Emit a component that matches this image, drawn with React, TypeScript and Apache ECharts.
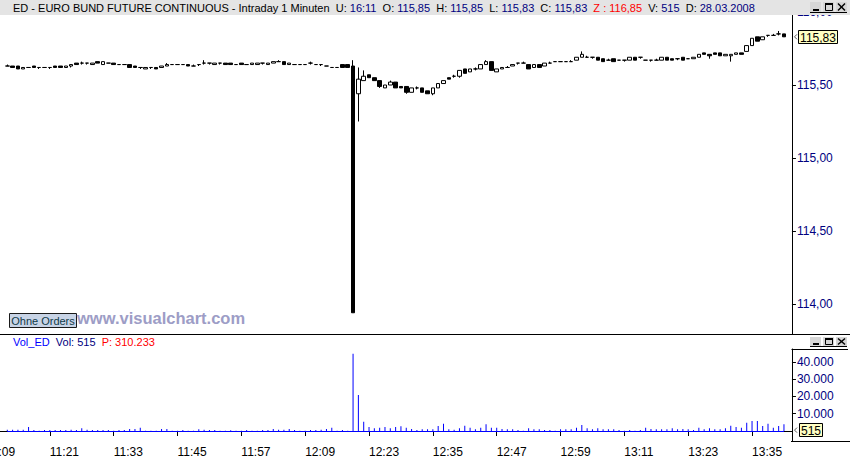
import React, { useEffect, useRef } from "react";
import * as echarts from "echarts";

// ---------- data ----------
const timeRanges: [string, string][] = [
  ["11:09", "12:17"],
  ["12:20", "13:42"],
];
const hiddenBefore = 4; // 11:09 – 11:12 lie left of the first drawn bar

// [open, close, low, high]
const candles: [number, number, number, number][] = [
  [115.63, 115.63, 115.63, 115.64], [115.63, 115.62, 115.62, 115.63], [115.63, 115.61, 115.61, 115.63],
  [115.61, 115.62, 115.61, 115.62], [115.62, 115.62, 115.62, 115.62], [115.63, 115.62, 115.62, 115.63],
  [115.62, 115.62, 115.61, 115.62], [115.62, 115.62, 115.62, 115.62], [115.62, 115.62, 115.61, 115.62],
  [115.63, 115.62, 115.62, 115.63], [115.63, 115.62, 115.62, 115.63], [115.62, 115.63, 115.62, 115.63],
  [115.63, 115.64, 115.62, 115.64], [115.65, 115.64, 115.64, 115.65], [115.65, 115.65, 115.64, 115.66],
  [115.65, 115.65, 115.64, 115.65], [115.64, 115.65, 115.64, 115.65], [115.66, 115.65, 115.65, 115.66],
  [115.64, 115.66, 115.64, 115.66], [115.65, 115.65, 115.65, 115.65], [115.65, 115.64, 115.64, 115.65],
  [115.64, 115.64, 115.64, 115.64], [115.64, 115.64, 115.64, 115.64], [115.64, 115.62, 115.62, 115.64],
  [115.63, 115.62, 115.62, 115.63], [115.62, 115.62, 115.61, 115.62], [115.61, 115.62, 115.61, 115.62],
  [115.62, 115.62, 115.61, 115.62], [115.62, 115.61, 115.61, 115.62], [115.62, 115.63, 115.62, 115.63],
  [115.63, 115.64, 115.63, 115.65], [115.64, 115.64, 115.64, 115.64], [115.64, 115.64, 115.64, 115.64],
  [115.64, 115.64, 115.64, 115.64], [115.64, 115.63, 115.63, 115.64], [115.63, 115.63, 115.63, 115.64],
  [115.64, 115.64, 115.63, 115.64], [115.65, 115.65, 115.64, 115.67], [115.65, 115.65, 115.64, 115.65],
  [115.64, 115.65, 115.64, 115.65], [115.65, 115.65, 115.64, 115.65], [115.65, 115.64, 115.64, 115.65],
  [115.65, 115.64, 115.64, 115.65], [115.64, 115.64, 115.64, 115.64], [115.65, 115.64, 115.64, 115.65],
  [115.64, 115.64, 115.64, 115.64], [115.64, 115.65, 115.64, 115.65], [115.64, 115.65, 115.64, 115.65],
  [115.65, 115.65, 115.64, 115.65], [115.64, 115.65, 115.64, 115.65], [115.65, 115.66, 115.65, 115.66],
  [115.66, 115.66, 115.66, 115.67], [115.66, 115.64, 115.64, 115.66], [115.64, 115.65, 115.64, 115.65],
  [115.64, 115.64, 115.64, 115.64], [115.64, 115.64, 115.64, 115.64], [115.64, 115.64, 115.64, 115.64],
  [115.65, 115.65, 115.64, 115.66], [115.64, 115.64, 115.64, 115.64], [115.64, 115.64, 115.63, 115.64],
  [115.63, 115.63, 115.63, 115.63], [115.62, 115.62, 115.62, 115.62], [115.62, 115.62, 115.62, 115.62],
  [115.64, 115.62, 115.62, 115.64], [115.64, 115.62, 115.62, 115.64],
  [115.63, 113.94, 113.94, 115.67],
  [115.44, 115.54, 115.25, 115.62], [115.53, 115.56, 115.53, 115.6], [115.57, 115.55, 115.55, 115.57],
  [115.55, 115.53, 115.53, 115.55], [115.53, 115.49, 115.48, 115.53], [115.48, 115.5, 115.48, 115.5],
  [115.5, 115.52, 115.5, 115.53], [115.52, 115.48, 115.48, 115.52], [115.49, 115.48, 115.48, 115.49],
  [115.49, 115.45, 115.44, 115.49], [115.45, 115.48, 115.45, 115.48], [115.48, 115.48, 115.47, 115.49],
  [115.48, 115.45, 115.45, 115.48], [115.46, 115.44, 115.44, 115.46], [115.44, 115.48, 115.43, 115.48],
  [115.48, 115.51, 115.48, 115.51], [115.51, 115.53, 115.51, 115.53], [115.55, 115.54, 115.54, 115.55],
  [115.56, 115.56, 115.55, 115.57], [115.56, 115.6, 115.55, 115.6], [115.61, 115.58, 115.58, 115.61],
  [115.59, 115.61, 115.59, 115.61], [115.61, 115.61, 115.6, 115.62], [115.61, 115.64, 115.61, 115.64],
  [115.64, 115.66, 115.64, 115.67], [115.66, 115.6, 115.6, 115.66], [115.59, 115.61, 115.59, 115.61],
  [115.61, 115.62, 115.61, 115.62], [115.62, 115.62, 115.62, 115.63], [115.63, 115.64, 115.63, 115.64],
  [115.65, 115.65, 115.64, 115.65], [115.65, 115.65, 115.65, 115.66], [115.64, 115.61, 115.61, 115.64],
  [115.62, 115.64, 115.62, 115.64], [115.64, 115.62, 115.62, 115.64], [115.63, 115.65, 115.63, 115.65],
  [115.65, 115.65, 115.65, 115.66], [115.66, 115.66, 115.66, 115.66], [115.66, 115.66, 115.66, 115.66],
  [115.66, 115.66, 115.66, 115.66], [115.66, 115.66, 115.66, 115.67], [115.67, 115.69, 115.67, 115.69],
  [115.69, 115.71, 115.69, 115.73], [115.69, 115.69, 115.69, 115.7], [115.69, 115.69, 115.68, 115.69],
  [115.69, 115.67, 115.67, 115.69], [115.68, 115.66, 115.66, 115.68], [115.67, 115.67, 115.67, 115.68],
  [115.68, 115.66, 115.66, 115.68], [115.67, 115.67, 115.67, 115.67], [115.67, 115.67, 115.66, 115.67],
  [115.67, 115.69, 115.67, 115.69], [115.69, 115.67, 115.67, 115.69], [115.69, 115.69, 115.68, 115.69],
  [115.67, 115.67, 115.67, 115.67], [115.67, 115.67, 115.66, 115.67], [115.67, 115.67, 115.67, 115.68],
  [115.67, 115.69, 115.67, 115.69], [115.69, 115.67, 115.67, 115.69], [115.68, 115.67, 115.67, 115.68],
  [115.68, 115.68, 115.67, 115.68], [115.69, 115.67, 115.67, 115.69], [115.68, 115.68, 115.68, 115.68],
  [115.68, 115.69, 115.68, 115.69], [115.69, 115.71, 115.69, 115.71], [115.72, 115.71, 115.71, 115.72],
  [115.71, 115.7, 115.68, 115.71], [115.72, 115.71, 115.71, 115.72], [115.72, 115.7, 115.7, 115.72],
  [115.7, 115.71, 115.7, 115.71], [115.7, 115.71, 115.66, 115.71], [115.71, 115.72, 115.71, 115.72],
  [115.72, 115.71, 115.71, 115.72], [115.73, 115.77, 115.73, 115.77], [115.77, 115.82, 115.77, 115.82],
  [115.83, 115.8, 115.8, 115.83], [115.81, 115.83, 115.81, 115.83], [115.84, 115.84, 115.83, 115.84],
  [115.84, 115.84, 115.84, 115.85], [115.85, 115.85, 115.84, 115.87], [115.85, 115.83, 115.83, 115.85],
];

const volumes: number[] = [
  770, 770, 770, 770, 2300, 580, 200, 580, 580, 580,
  580, 580, 770, 580, 1540, 770, 580, 580, 580, 580,
  200, 580, 580, 1160, 1160, 1930, 200, 200, 200, 1160,
  1160, 200, 200, 580, 200, 200, 960, 770, 580, 580,
  200, 200, 390, 200, 200, 580, 200, 200, 580, 580,
  1160, 770, 770, 1160, 580, 200, 200, 580, 580, 770,
  1160, 1930, 200, 580, 200, 44600, 20800, 5400, 2300, 1540,
  1930, 2310, 1540, 2310, 2700, 1930, 1160, 580, 970, 970,
  960, 2900, 4250, 960, 770, 1540, 3090, 1930, 960, 1930,
  3860, 1930, 1930, 1160, 960, 960, 580, 200, 1540, 960,
  960, 580, 580, 200, 960, 960, 960, 1930, 3470, 1540,
  960, 1540, 960, 960, 960, 580, 200, 580, 200, 580,
  1930, 1160, 960, 960, 960, 1540, 960, 1160, 960, 580,
  1930, 960, 1540, 960, 960, 1540, 3090, 2310, 1930, 4830,
  5790, 5790, 2900, 4250, 1930, 2900, 3860,
];

const priceTicks = [114, 114.5, 115, 115.5, 116];
const volumeTicks = [10000, 20000, 30000, 40000];
const lastVolumeText = "515";
const volumeSumText = "310.233";
const sessionTime = "16:11";
const sessionDate = "28.03.2008";
const limitText = "116,85";
const title = "ED - EURO BUND FUTURE CONTINUOUS - Intraday 1 Minuten";

// ---------- helpers ----------
const FONT = '"Liberation Sans", Arial, sans-serif';
const fmtPrice = (v: number) => v.toFixed(2).replace(".", ",");
const fmtVol = (v: number) => String(Math.round(v)).replace(/\B(?=(\d{3})+(?!\d))/g, ".");
const toMin = (s: string) => {
  const [h, m] = s.split(":").map(Number);
  return h * 60 + m;
};
function buildTimes(ranges: [string, string][]) {
  const out: string[] = [];
  for (const [a, b] of ranges) {
    for (let t = toMin(a); t <= toMin(b); t++) {
      out.push(`${Math.floor(t / 60)}:${String(t % 60).padStart(2, "0")}`);
    }
  }
  return out;
}

const times = buildTimes(timeRanges);

// layout
const GRID_LEFT = -16.66;
const GRID_WIDTH = 808.6;
const MAIN_TOP = 0;
const MAIN_H = 334;
const VOL_TOP = 349;
const VOL_H = 92;
const PRICE_MIN = 113.7945;
const PRICE_MAX = 116.0822;
const VOL_MIN = -5780;
const VOL_MAX = 47400;

function windowButtons(y: number, h: number) {
  const els: any[] = [];
  const xs = [810, 823, 836];
  xs.forEach((x) => {
    els.push({ type: "rect", z: 120, shape: { x, y, width: 11, height: h }, style: { fill: "#d6d6d6" } });
  });
  els.push({ type: "line", z: 121, shape: { x1: 810, y1: y + h + 0.5, x2: 847, y2: y + h + 0.5 }, style: { stroke: "#000", lineWidth: 1 } });
  els.push({ type: "rect", z: 121, shape: { x: 813, y: y + h - 3, width: 6, height: 2 }, style: { fill: "#000" } });
  els.push({ type: "rect", z: 121, shape: { x: 825.5, y: y + 1.5, width: 7, height: h - 3 }, style: { fill: "none", stroke: "#000", lineWidth: 1 } });
  els.push({ type: "rect", z: 121, shape: { x: 825, y: y + 1, width: 8, height: 2 }, style: { fill: "#000" } });
  els.push({ type: "line", z: 121, shape: { x1: 838, y1: y + 1.5, x2: 845, y2: y + h - 1.5 }, style: { stroke: "#000", lineWidth: 1.5 } });
  els.push({ type: "line", z: 121, shape: { x1: 845, y1: y + 1.5, x2: 838, y2: y + h - 1.5 }, style: { stroke: "#000", lineWidth: 1.5 } });
  return els;
}

function valueTag(y: number, x: number, w: number, text: string) {
  return [
    { type: "polyline", z: 120, shape: { points: [[797, y - 2.5], [794.5, y], [797, y + 2.5]] }, style: { stroke: "#555", lineWidth: 1, fill: "none" } },
    { type: "rect", z: 120, shape: { x: x + 0.5, y: Math.round(y) - 6.5, width: w, height: 13 }, style: { fill: "#ffffc4", stroke: "#000", lineWidth: 1 } },
    { type: "text", z: 121, x: x + 0.5 + w / 2, y: Math.round(y) + 0.5, style: { text, fill: "#000", font: `12px ${FONT}`, align: "center", verticalAlign: "middle" } },
  ];
}

export default function App() {
  const ref = useRef<HTMLDivElement>(null);

  useEffect(() => {
    if (!ref.current) return;
    const chart = echarts.init(ref.current, null, { renderer: "svg", width: 850, height: 459 });

    const candleData = times.map((_, idx) => {
      const c = candles[idx - hiddenBefore];
      return c ? c : ["-", "-", "-", "-"];
    });
    const volData = times.map((_, idx) => {
      const v = volumes[idx - hiddenBefore];
      return v === undefined ? "-" : v;
    });
    const first = hiddenBefore;
    const lastIdx = hiddenBefore + candles.length - 1;
    const last = candles[candles.length - 1];

    chart.setOption({
      animation: false,
      backgroundColor: "#ffffff",
      grid: [
        { left: GRID_LEFT, top: MAIN_TOP, width: GRID_WIDTH, height: MAIN_H, containLabel: false, outerBoundsMode: "none" },
        { left: GRID_LEFT, top: VOL_TOP, width: GRID_WIDTH, height: VOL_H, containLabel: false, outerBoundsMode: "none" },
      ],
      xAxis: [
        { type: "category", gridIndex: 0, data: times, show: false, boundaryGap: true },
        {
          type: "category",
          gridIndex: 1,
          data: times,
          boundaryGap: true,
          axisLine: { show: true, lineStyle: { color: "#000", width: 1 } },
          axisTick: { show: true, interval: 11, alignWithLabel: true, length: 5, lineStyle: { color: "#000" } },
          axisLabel: {
            interval: 11,
            align: "left",
            margin: 5,
            color: "#000",
            fontSize: 12,
            fontFamily: FONT,
            showMinLabel: true,
          },
          splitLine: { show: false },
        },
      ],
      yAxis: [
        {
          type: "value",
          gridIndex: 0,
          position: "right",
          min: PRICE_MIN,
          max: PRICE_MAX,
          axisLine: { show: true, lineStyle: { color: "#000", width: 1 } },
          axisTick: { show: true, customValues: priceTicks, length: 4, lineStyle: { color: "#000" } },
          axisLabel: { customValues: priceTicks, formatter: fmtPrice, color: "#000080", fontSize: 12, fontFamily: FONT, margin: 5 },
          splitLine: { show: false },
        },
        {
          type: "value",
          gridIndex: 1,
          position: "right",
          min: VOL_MIN,
          max: VOL_MAX,
          axisLine: { show: true, lineStyle: { color: "#000", width: 1 } },
          axisTick: { show: true, customValues: volumeTicks, length: 4, lineStyle: { color: "#000" } },
          axisLabel: { customValues: volumeTicks, formatter: fmtVol, color: "#000080", fontSize: 12, fontFamily: FONT, margin: 5 },
          splitLine: { show: false },
        },
      ],
      series: [
        {
          type: "candlestick",
          xAxisIndex: 0,
          yAxisIndex: 0,
          data: candleData,
          barWidth: 4,
          itemStyle: { color: "#ffffff", color0: "#000000", borderColor: "#000000", borderColor0: "#000000", borderWidth: 1 },
        },
        {
          type: "bar",
          xAxisIndex: 1,
          yAxisIndex: 1,
          data: volData,
          barWidth: 1,
          itemStyle: { color: "#0000ff" },
          markLine: {
            silent: true,
            symbol: "none",
            label: { show: false },
            lineStyle: { color: "#0000ff", width: 1, type: "solid" },
            data: [[{ coord: [first, 0] }, { coord: [lastIdx, 0] }]],
          },
        },
      ],
    });

    const priceY = chart.convertToPixel({ yAxisIndex: 0 } as any, last[1]) as number;
    const volY = chart.convertToPixel({ yAxisIndex: 1 } as any, Number(lastVolumeText)) as number;

    const rich = {
      k: { fill: "#000000", fontSize: 11, fontFamily: FONT },
      v: { fill: "#000080", fontSize: 11, fontFamily: FONT },
      r: { fill: "#ff0000", fontSize: 11, fontFamily: FONT },
    };
    const headerParts: [string, string][] = [
      ["k", `${title}  U: `], ["v", sessionTime],
      ["k", "  O: "], ["v", fmtPrice(last[0])],
      ["k", "  H: "], ["v", fmtPrice(last[3])],
      ["k", "  L: "], ["v", fmtPrice(last[2])],
      ["k", "  C: "], ["v", fmtPrice(last[1])],
      ["r", `  Z : ${limitText}`],
      ["k", "  V: "], ["v", lastVolumeText],
      ["k", "  D: "], ["v", sessionDate],
    ];
    const volParts: [string, string][] = [
      ["b", "Vol_ED"], ["v", `  Vol: ${lastVolumeText}`], ["r", `  P: ${volumeSumText}`],
    ];

    const graphics: any[] = [
      { type: "rect", z: 100, shape: { x: 0, y: 0, width: 850, height: 15 }, style: { fill: "#e4e4e4" } },
      {
        type: "text", z: 101, x: 13, y: 8,
        style: {
          text: headerParts.map(([c, t]) => `{${c}|${t}}`).join(""),
          rich, font: `11px ${FONT}`, verticalAlign: "middle",
        },
      },
      ...windowButtons(2, 10),
      { type: "line", z: 90, shape: { x1: 0, y1: 334.5, x2: 850, y2: 334.5 }, style: { stroke: "#000", lineWidth: 1 } },
      ...valueTag(priceY, 798, 39, fmtPrice(last[1])),
      { type: "rect", z: 110, shape: { x: 9.5, y: 313.5, width: 67, height: 14 }, style: { fill: "#c8d4e6", stroke: "#1a1a1a", lineWidth: 1 } },
      { type: "text", z: 111, x: 43, y: 321, style: { text: "Ohne Orders", fill: "#103a48", font: `11px ${FONT}`, align: "center", verticalAlign: "middle" } },
      { type: "text", z: 111, x: 77, y: 318, style: { text: "www.visualchart.com", fill: "#9d9dc6", font: `bold 16.5px ${FONT}`, align: "left", verticalAlign: "middle" } },
      {
        type: "text", z: 101, x: 13, y: 342,
        style: {
          text: volParts.map(([c, t]) => `{${c}|${t}}`).join(""),
          rich: { ...rich, b: { fill: "#0000ff", fontSize: 11, fontFamily: FONT } },
          font: `11px ${FONT}`, verticalAlign: "middle",
        },
      },
      ...windowButtons(337, 9),
      { type: "line", z: 90, shape: { x1: 791.5, y1: 349.5, x2: 848, y2: 349.5 }, style: { stroke: "#000", lineWidth: 1 } },
      { type: "line", z: 90, shape: { x1: 791, y1: 441.5, x2: 850, y2: 441.5 }, style: { stroke: "#000", lineWidth: 1 } },
      ...valueTag(volY, 799, 23, lastVolumeText),
    ];

    chart.setOption({ graphic: graphics });

    return () => chart.dispose();
  }, []);

  return (
    <div
      ref={ref}
      style={{ position: "fixed", left: 0, top: 0, width: 850, height: 459, background: "#fff" }}
    />
  );
}
